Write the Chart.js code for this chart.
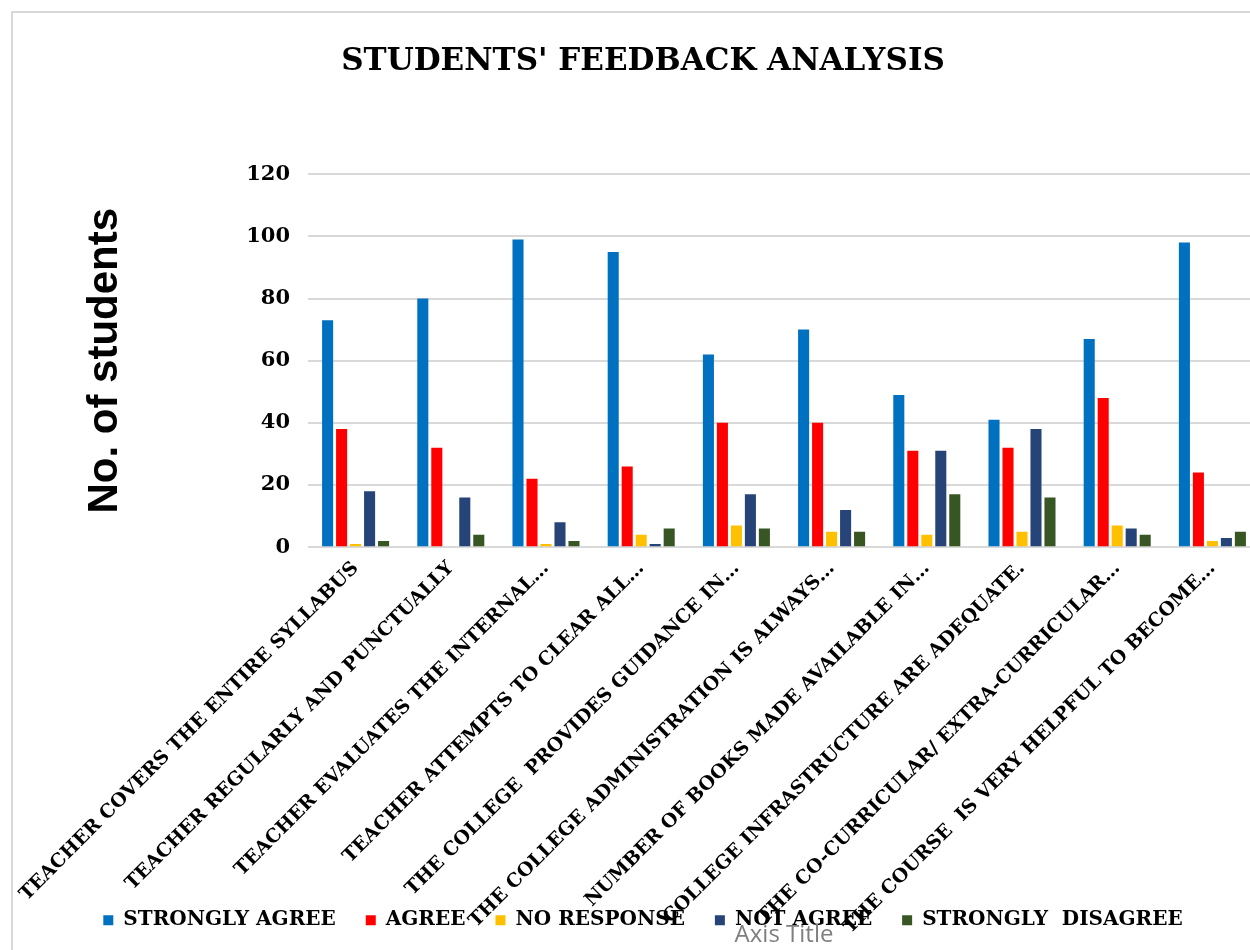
<!doctype html>
<html lang="en">
<head>
<meta charset="utf-8" />
<title>Students' Feedback Analysis</title>
<script src="https://cdn.jsdelivr.net/npm/chart.js@4.4.4/dist/chart.umd.min.js"></script>
<style>
  html, body { margin: 0; padding: 0; background: #fff; width: 1250px; height: 950px; overflow: hidden; }
  #frame { position: absolute; left: 11px; top: 11px; width: 1300px; height: 1000px; border: 2px solid #d9d9d9; }
  #wrap { position: absolute; left: 0; top: 0; width: 1286px; height: 950px; }
</style>
</head>
<body>
<div id="frame"></div>
<div id="wrap"><canvas id="chart"></canvas></div>
<script>
const categories = [
  "TEACHER COVERS THE ENTIRE SYLLABUS",
  "TEACHER REGULARLY AND PUNCTUALLY",
  "TEACHER EVALUATES THE INTERNAL…",
  "TEACHER ATTEMPTS TO CLEAR ALL…",
  "THE COLLEGE  PROVIDES GUIDANCE IN…",
  "THE COLLEGE ADMINISTRATION IS ALWAYS…",
  "NUMBER OF BOOKS MADE AVAILABLE IN…",
  "COLLEGE INFRASTRUCTURE ARE ADEQUATE.",
  "THE CO-CURRICULAR/ EXTRA-CURRICULAR…",
  "THE COURSE  IS VERY HELPFUL TO BECOME…",
];
const stronglyAgree = [73, 80, 99, 95, 62, 70, 49, 41, 67, 98];
const agree = [38, 32, 22, 26, 40, 40, 31, 32, 48, 24];
const noResponse = [1, 0, 1, 4, 7, 5, 4, 5, 7, 2];
const notAgree = [18, 16, 8, 1, 17, 12, 31, 38, 6, 3];
const stronglyDisagree = [2, 4, 2, 6, 6, 5, 17, 16, 4, 5];
const yTicks = [0, 20, 40, 60, 80, 100, 120];

const seriesNames = ["STRONGLY AGREE", "AGREE", "NO RESPONSE", "NOT AGREE", "STRONGLY  DISAGREE"];
const seriesData = [stronglyAgree, agree, noResponse, notAgree, stronglyDisagree];
const colors = ["#0070c0", "#ff0000", "#ffc000", "#264478", "#375623"];

const serif = "'DejaVu Serif', 'Liberation Serif', serif";

// the rotated category labels run down into the legend band, as in the original;
// stretch the x scale's clip box to the canvas bottom so they are not cut off
const unclipLabels = {
  id: "unclipLabels",
  afterLayout(chart) {
    chart.scales.x.bottom = chart.height;
  },
};

new Chart(document.getElementById("chart"), {
  type: "bar",
  data: {
    labels: categories,
    datasets: seriesNames.map((name, i) => ({
      label: name,
      data: seriesData[i],
      backgroundColor: colors[i],
      borderWidth: 0,
      categoryPercentage: 0.735,
      barPercentage: 0.79,
    })),
  },
  plugins: [unclipLabels],
  options: {
    responsive: true,
    maintainAspectRatio: false,
    animation: false,
    layout: { padding: 0 },
    scales: {
      x: {
        grid: { display: false, drawTicks: false },
        border: { display: false },
        ticks: {
          autoSkip: false,
          minRotation: 45,
          maxRotation: 45,
          padding: 10,
          color: "#000",
          font: { family: serif, size: 19, weight: "bold" },
        },
        afterFit: (scale) => {
          scale.height = 333;
          scale.paddingLeft = 0;
          scale.paddingRight = 0;
        },
      },
      y: {
        min: 0,
        max: 120,
        afterBuildTicks: (scale) => { scale.ticks = yTicks.map((v) => ({ value: v })); },
        grid: { color: "#d9d9d9", lineWidth: 2, drawTicks: false },
        border: { display: false },
        ticks: {
          padding: 18,
          color: "#000",
          font: { family: serif, size: 21, weight: "bold" },
        },
        title: {
          display: true,
          text: "No. of students",
          color: "#000",
          padding: { top: 80, bottom: 0 },
          font: { family: "'Liberation Sans', Arial, sans-serif", size: 42, weight: "bold" },
        },
        afterFit: (scale) => { scale.width = 308; },
      },
      // empty spacer on the right so the plot ends where the original's does
      // while the title and legend stay centred on the whole frame
      spacer: {
        type: "linear",
        position: "right",
        grid: { display: false, drawTicks: false },
        border: { display: false },
        ticks: { display: false },
        afterFit: (scale) => { scale.width = 26; },
      },
    },
    plugins: {
      title: {
        display: true,
        text: "STUDENTS' FEEDBACK ANALYSIS",
        color: "#000",
        padding: { top: 43, bottom: 94 },
        font: { family: serif, size: 31, weight: "bold" },
      },
      subtitle: {
        display: true,
        position: "bottom",
        fullSize: false,
        text: "Axis Title",
        color: "#7f7f7f",
        padding: { top: -19, bottom: 0 },
        font: { family: "'Open Sans', sans-serif", size: 24, weight: "normal" },
      },
      legend: {
        position: "bottom",
        labels: {
          boxWidth: 10,
          boxHeight: 10,
          padding: 30,
          color: "#000",
          font: { family: serif, size: 20, weight: "bold" },
        },
      },
      tooltip: { enabled: false },
    },
  },
});
</script>
</body>
</html>
